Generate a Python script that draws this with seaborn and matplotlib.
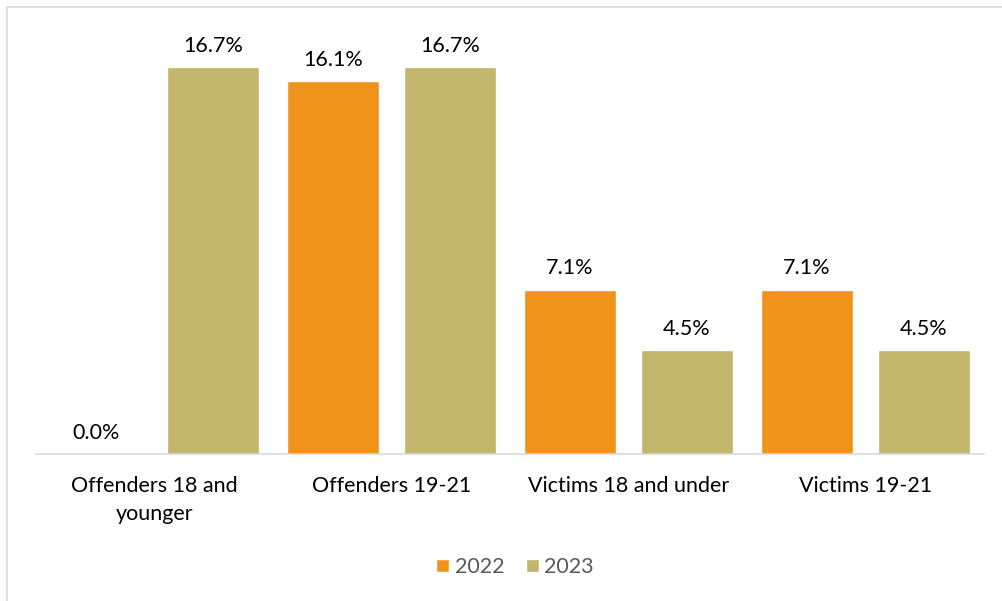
import matplotlib
matplotlib.use("Agg")
import matplotlib.pyplot as plt
import seaborn as sns
import pandas as pd
from matplotlib.patches import Rectangle

categories = ["Offenders 18 and\nyounger", "Offenders 19-21", "Victims 18 and under", "Victims 19-21"]
years = ["2022", "2023"]
values_2022 = [0.0, 16.1, 7.1, 7.1]
values_2023 = [16.7, 16.7, 4.5, 4.5]
colors = {"2022": "#F0931A", "2023": "#C2B56C"}

df = pd.DataFrame({
    "category": categories * 2,
    "year": [years[0]] * 4 + [years[1]] * 4,
    "value": values_2022 + values_2023,
})

sns.set_theme(style="white")
plt.rcParams["font.family"] = ["Lato", "DejaVu Sans"]

fig = plt.figure(figsize=(10.02, 6.01), dpi=100)
ax = fig.add_axes([36 / 1002, 1 - 454 / 601, (984 - 36) / 1002, (454 - 37) / 601])

sns.barplot(data=df, x="category", y="value", hue="year", palette=colors,
            width=0.987, gap=0.214, ax=ax, legend=True, saturation=1)

ax.set_ylim(0, 18)
ax.set_xlim(-0.5, 3.5)
ax.set_xlabel("")
ax.set_ylabel("")
ax.set_yticks([])
for s in ["top", "right", "left"]:
    ax.spines[s].set_visible(False)
ax.spines["bottom"].set_color("#D9D9D9")
ax.spines["bottom"].set_linewidth(1.2)
ax.tick_params(axis="x", length=0, pad=16, labelsize=15.5, labelcolor="black")
for lbl in ax.get_xticklabels():
    lbl.set_linespacing(1.5)
    lbl.set_verticalalignment("top")

for cont in ax.containers:
    labels = [f"{v:.1f}%" for v in cont.datavalues]
    ax.bar_label(cont, labels=labels, padding=8, fontsize=15.5, color="black")

leg = ax.legend(loc="center", bbox_to_anchor=(515 / 1002, 1 - 567 / 601),
                bbox_transform=fig.transFigure, ncol=2, frameon=False,
                fontsize=15.5, handlelength=0.6, handleheight=0.6,
                handletextpad=0.25, columnspacing=1.0)
for t in leg.get_texts():
    t.set_color("#595959")

fig.patches.append(Rectangle((7 / 1002, -0.05), 1.2, 1 - 7 / 601 + 0.05,
                             transform=fig.transFigure, fill=False,
                             edgecolor="#D9D9D9", linewidth=1.2))

fig.savefig("out.png", dpi=100)
